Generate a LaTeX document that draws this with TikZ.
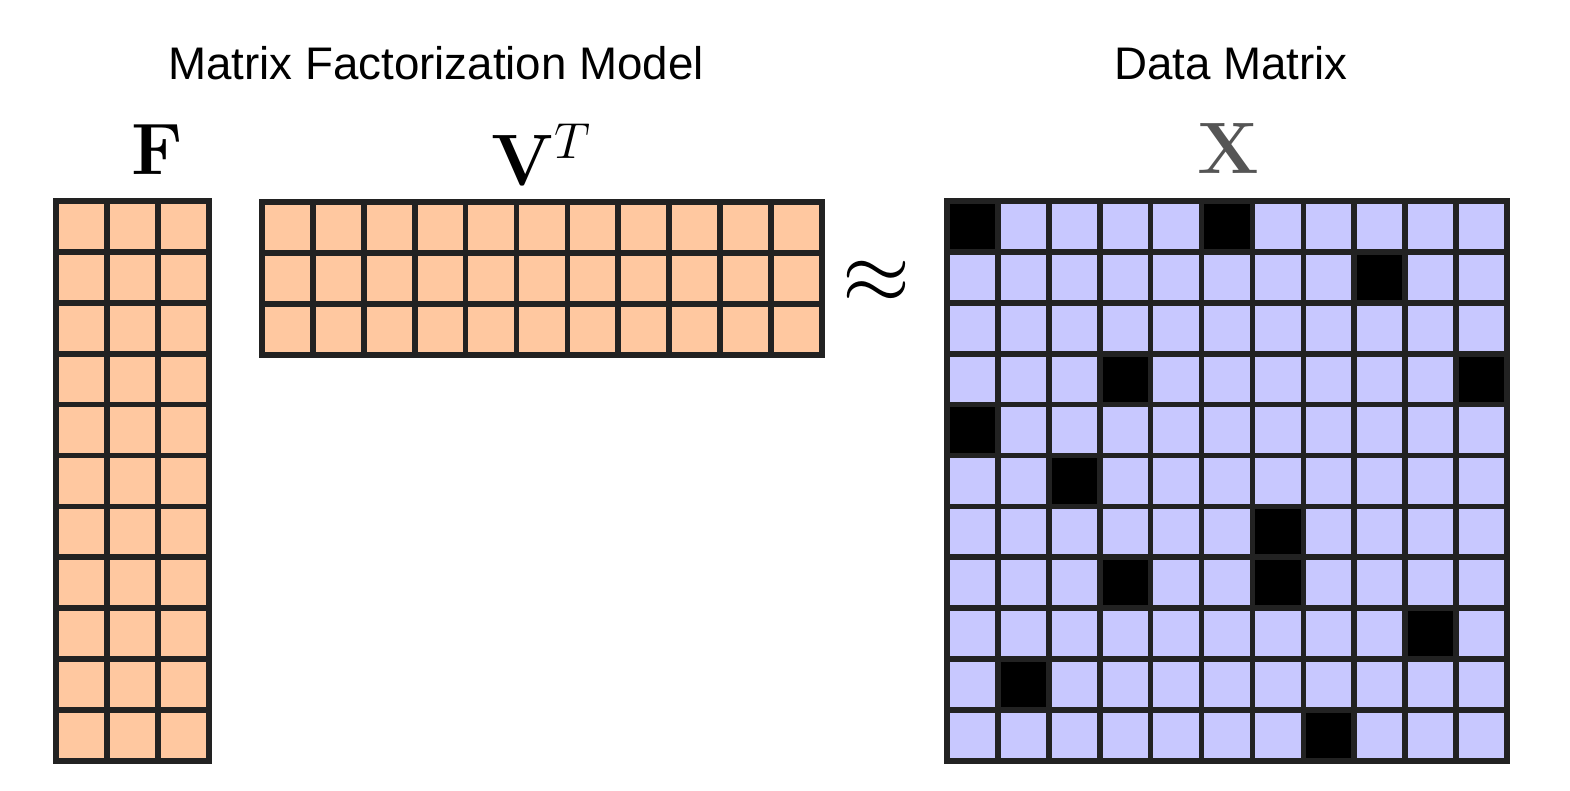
\documentclass[tikz,border=0pt]{standalone}
\usepackage[no-math]{fontspec}
\usepackage{amsmath}
\newfontfamily\titlefont{Liberation Sans}
\usetikzlibrary{positioning}

\definecolor{facorange}{RGB}{255,200,160}
\definecolor{datablue}{RGB}{200,200,255}
\definecolor{gridgray}{RGB}{34,34,34}
\definecolor{labelgray}{RGB}{85,85,85}
\def\cs{0.509}

\tikzset{
  cell/.style={draw=gridgray, line width=1.6pt, minimum size=\cs cm, inner sep=0pt, outer sep=0pt},
  fcell/.style={cell, fill=facorange},
  xcell/.style={cell, fill=datablue},
  hitcell/.style={cell, fill=black},
  title/.style={font=\titlefont\fontsize{13}{15}\selectfont, anchor=base},
  mlabel/.style={font=\fontsize{20.7}{24}\selectfont, anchor=base}
}

\begin{document}
\begin{tikzpicture}
    \useasboundingbox (0,0) rectangle (15.70,7.90);

    % Factor F
    \foreach \r in {0,...,10}
        \foreach \c in {0,1,2}
            \node[fcell] (F-\r-\c) at ({0.56+(\c+0.5)*\cs},{5.89-(\r+0.5)*\cs}) {};
    \node[mlabel] (Flab) at (1.57,6.16) {$\mathbf{F}$};

    % Factor V^T
    \foreach \r in {0,1,2}
        \foreach \c in {0,...,10}
            \node[fcell] (V-\r-\c) at ({2.62+(\c+0.5)*\cs},{5.88-(\r+0.5)*\cs}) {};
    \node[mlabel] (Vlab) at (5.42,6.05) {$\mathbf{V}^T$};

    % approx
    \node[font=\fontsize{25.5}{28}\selectfont] (approx) at (8.76,5.08) {$\approx$};

    % Data X
    \foreach \r in {0,...,10}
        \foreach \c in {0,...,10}
            \node[xcell] (X-\r-\c) at ({9.47+(\c+0.5)*\cs},{5.89-(\r+0.5)*\cs}) {};
    \foreach \r/\c in {0/0,0/5,1/8,3/3,3/10,4/0,5/2,6/6,7/3,7/6,8/9,9/1,10/7}
        \node[hitcell] at (X-\r-\c) {};
    \node[mlabel, font=\fontsize{19.5}{23}\selectfont, text=labelgray] (Xlab) at (12.285,6.17) {$\mathbf{X}$};

    % Titles
    \node[title] (mtitle) at (4.36,7.11) {Matrix Factorization Model};
    \node[title] (dtitle) at (12.31,7.11) {Data Matrix};
\end{tikzpicture}
\end{document}
